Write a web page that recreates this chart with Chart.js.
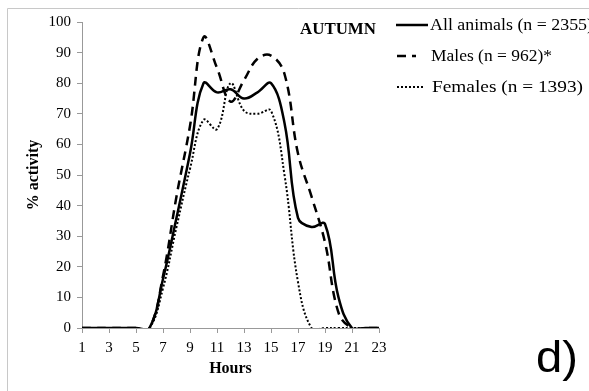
<!DOCTYPE html>
<html>
<head>
<meta charset="utf-8">
<script src="https://cdn.jsdelivr.net/npm/chart.js@4"></script>
<style>
  html, body { margin: 0; padding: 0; background: #fff; }
  #wrap { width: 589px; height: 391px; }
</style>
</head>
<body>
<div id="wrap"><canvas id="Autumn" width="589" height="391"></canvas></div>
<script>
var hours      = [1, 2, 3, 4, 5, 6, 7, 8, 9, 10, 11, 12, 13, 14, 15, 16, 17, 18, 19, 20, 21, 22, 23];
var allAnimals = [0, 0, 0, 0, 0, 0, 16, 36, 57, 80, 77, 78, 75, 77, 80, 67, 36, 33, 34, 10, 0, 0, 0];
var males      = [0, 0, 0, 0, 0, 0, 17, 43, 66, 95, 85, 74, 81, 88, 89, 83, 57, 43, 28, 5, 0, 0, 0];
var females    = [0, 0, 0, 0, 0, 0, 13, 33, 52, 68, 65, 80, 71, 70, 71, 50, 15, 0, 0, 0, 0, 0, 0];
var seriesNames = ["All animals (n = 2355)", "Males (n = 962)*", "Females (n = 1393)"];
var seasonName = "AUTUMN";
var panelTag = "d)";

function pts(vals) {
  return hours.map(function(h, i) { return {x: h, y: vals[i]}; });
}

var serif = "'Liberation Serif', 'Times New Roman', serif";

// text squeezed/stretched to a given width (the source picture is a bit wider than tall)
function fitText(ctx, txt, x, y, w) {
  var m = ctx.measureText(txt).width;
  ctx.save();
  ctx.translate(x, y);
  ctx.scale(w / m, 1);
  ctx.fillText(txt, 0, 0);
  ctx.restore();
}

// legend, season label, panel letter and the frame lines
var extras = {
  id: 'extras',
  beforeDraw: function(chart) {
    var ctx = chart.ctx;
    ctx.save();
    ctx.fillStyle = '#fff';
    ctx.fillRect(0, 0, chart.width, chart.height);
    ctx.strokeStyle = '#c8c8c8';
    ctx.lineWidth = 1;
    ctx.beginPath();
    ctx.moveTo(7.5, chart.height);
    ctx.lineTo(7.5, 8.5);
    ctx.lineTo(chart.width, 8.5);
    ctx.stroke();
    ctx.restore();
  },
  afterDraw: function(chart) {
    var ctx = chart.ctx;
    ctx.save();
    ctx.fillStyle = '#000';
    ctx.textBaseline = 'middle';
    ctx.font = "bold 16px " + serif;
    fitText(ctx, seasonName, 300, 30, 76);

    var rows = [
      {y: 25, x0: 396, x1: 428, tx: 430, w: 163},
      {y: 56, x0: 397, x1: 416, tx: 431, w: 121},
      {y: 87, x0: 397, x1: 423, tx: 432, w: 151}
    ];
    chart.data.datasets.forEach(function(ds, i) {
      var r = rows[i];
      ctx.strokeStyle = '#000';
      ctx.lineWidth = ds.borderWidth;
      ctx.setLineDash(ds.borderDash || []);
      ctx.beginPath();
      ctx.moveTo(r.x0, r.y);
      ctx.lineTo(r.x1, r.y);
      ctx.stroke();
      ctx.setLineDash([]);
      ctx.font = "17px " + serif;
      fitText(ctx, ds.label, r.tx, r.y + 1, r.w);
    });

    ctx.font = "44px 'Liberation Sans', Arial, sans-serif";
    ctx.textBaseline = 'alphabetic';
    fitText(ctx, panelTag, 536, 372, 42);
    ctx.restore();
  }
};

var chartEl = document.getElementById("Autumn");
if (chartEl) {
  var myChart = new Chart(chartEl, {
    type: 'line',
    data: {
      datasets: [{
        label: seriesNames[0],
        data: pts(allAnimals),
        borderColor: '#000',
        borderWidth: 2.5
      }, {
        label: seriesNames[1],
        data: pts(males),
        borderColor: '#000',
        borderWidth: 2.5,
        borderDash: [9, 6]
      }, {
        label: seriesNames[2],
        data: pts(females),
        borderColor: '#000',
        borderWidth: 2,
        borderDash: [2, 2]
      }]
    },
    plugins: [extras],
    options: {
      responsive: false,
      animation: false,
      events: [],
      layout: { padding: { left: 0, right: 210, top: 22, bottom: 0 } },
      elements: {
        point: { radius: 0 },
        line: { tension: 0.4, capBezierPoints: false, fill: false, borderCapStyle: 'butt' }
      },
      plugins: {
        legend: { display: false },
        tooltip: { enabled: false }
      },
      scales: {
        x: {
          type: 'linear',
          min: 1,
          max: 23,
          afterFit: function(s) { s.height = 63; },
          border: { color: '#999' },
          grid: { drawOnChartArea: false, tickLength: 5, color: '#999' },
          ticks: { stepSize: 2, autoSkip: false, maxRotation: 0, padding: 6, color: '#000',
                   font: { family: serif, size: 15 } },
          title: { display: true, text: 'Hours', color: '#000',
                   font: { family: serif, size: 16, weight: 'bold' }, padding: { top: 0, bottom: 13 } }
        },
        y: {
          min: 0,
          max: 100,
          afterFit: function(s) { s.width = 82; },
          border: { color: '#999' },
          grid: { drawOnChartArea: false, tickLength: 5, color: '#999' },
          ticks: { stepSize: 10, padding: 6, color: '#000', font: { family: serif, size: 15 } },
          title: { display: true, text: '% activity', color: '#000',
                   font: { family: serif, size: 16, weight: 'bold' }, padding: { top: 24, bottom: 0 } }
        }
      }
    }
  });
}
</script>
</body>
</html>
